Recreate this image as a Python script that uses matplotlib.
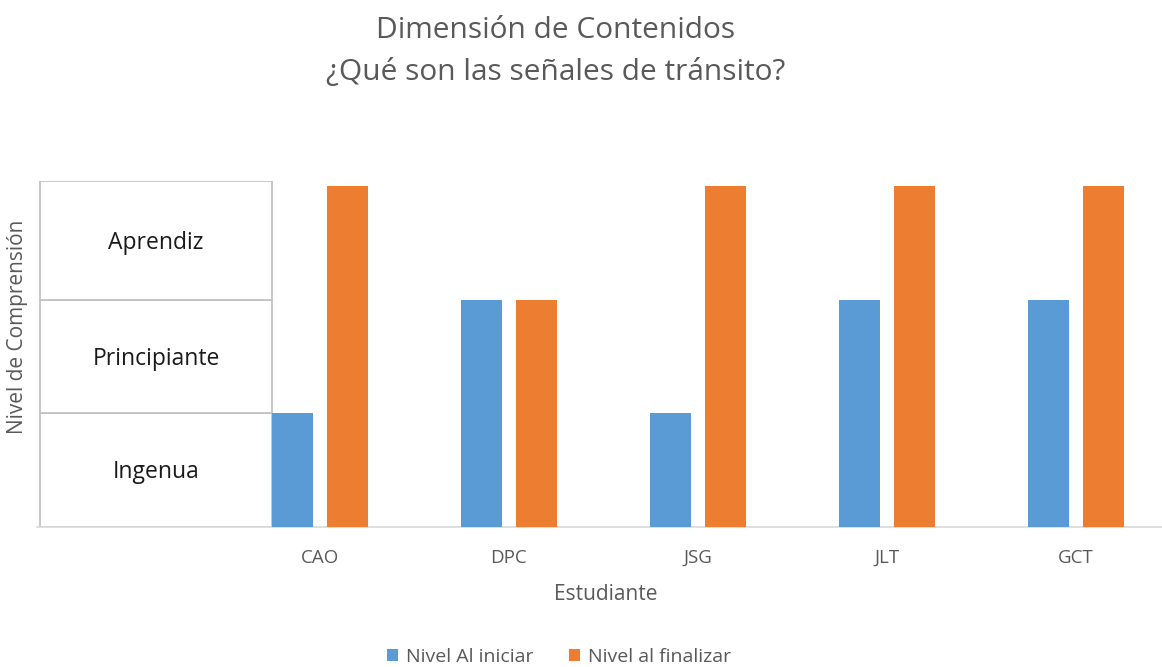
import matplotlib.pyplot as plt
from matplotlib.patches import Rectangle

plt.rcParams['font.family'] = ['Open Sans', 'DejaVu Sans']

# data
estudiantes = ['CAO', 'DPC', 'JSG', 'JLT', 'GCT']
nivel_inicio = [1, 2, 1, 2, 2]
nivel_final = [3, 2, 3, 3, 3]
niveles = ['Ingenua', 'Principiante', 'Aprendiz']
series = ['Nivel Al iniciar', 'Nivel al finalizar']

azul = '#5B9BD5'
naranja = '#ED7D31'
gris = '#595959'

fig = plt.figure(figsize=(11.62, 6.67), dpi=100)
ax = fig.add_axes([36.5 / 1162, 1 - 527 / 667, 1134 / 1162, 346 / 667])

x = list(range(len(estudiantes)))
w = 0.217
off = 0.145
b1 = ax.bar([i - off for i in x], nivel_inicio, w, color=azul, label=series[0], zorder=3)
b2 = ax.bar([i + off for i in x], nivel_final, w, color=naranja, label=series[1], zorder=3)

ax.set_xlim(-1.5, 4.5)
ax.set_ylim(0, 3.043)

# tabla de niveles a la izquierda
t_left = -1.48
t_right = -off - w / 2
tops = [1, 2, 3.043]
bottom = 0
for nombre, top in zip(niveles, tops):
    ax.add_patch(Rectangle((t_left, bottom), t_right - t_left, top - bottom,
                           facecolor='white', edgecolor='#BFBFBF', lw=1.2, zorder=2))
    ax.text((t_left + t_right) / 2, (bottom + top) / 2 - 0.02, nombre,
            ha='center', va='center', fontsize=16.5, color='#1a1a1a')
    bottom = top

for s in ['top', 'right', 'left']:
    ax.spines[s].set_visible(False)
ax.spines['bottom'].set_color('#D9D9D9')
ax.spines['bottom'].set_linewidth(1.2)
ax.set_yticks([])
ax.set_xticks(x)
ax.set_xticklabels(estudiantes, fontsize=13.5, color=gris)
ax.tick_params(axis='x', length=0, pad=16)

fig.text(606 / 1162, 1 - 595 / 667, 'Estudiante', ha='center', va='center',
         fontsize=15, color=gris)
fig.text(18 / 1162, 1 - 327 / 667, 'Nivel de Comprensión', ha='center', va='center',
         rotation=90, fontsize=15, color=gris)

fig.text(556 / 1162, 1 - 30 / 667, 'Dimensión de Contenidos', ha='center', va='center',
         fontsize=21.5, color=gris)
fig.text(556 / 1162, 1 - 73 / 667, '¿Qué son las señales de tránsito?', ha='center',
         va='center', fontsize=21.5, color=gris)

fig.legend(handles=[b1, b2], labels=series, loc='center', bbox_to_anchor=(559 / 1162, 1 - 657 / 667),
           ncol=2, frameon=False, fontsize=14, labelcolor=gris, handlelength=0.6,
           handleheight=0.6, handletextpad=0.4, columnspacing=1.8)

fig.savefig('out.png', dpi=100)
